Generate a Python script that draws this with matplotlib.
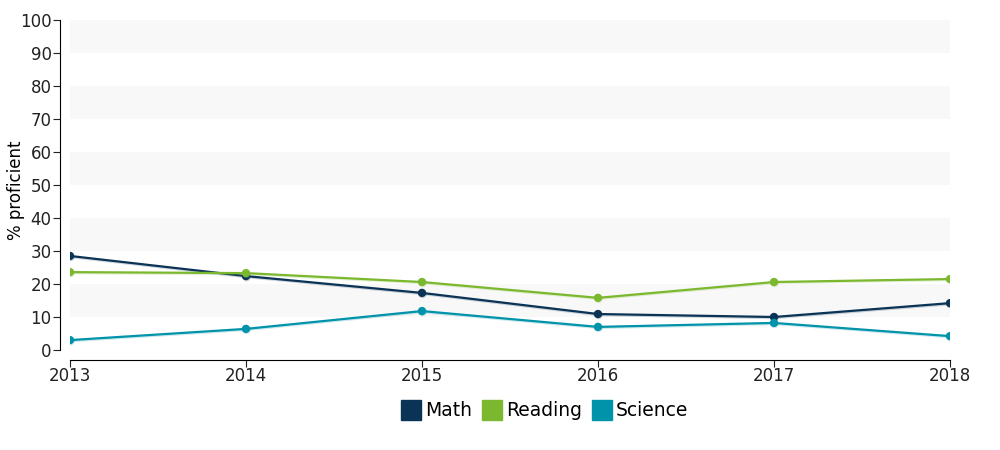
import matplotlib.pyplot as plt
from matplotlib.lines import Line2D
import matplotlib.patheffects as pe

# values
years = [2013, 2014, 2015, 2016, 2017, 2018]
math = [28.5, 22.4, 17.3, 10.9, 10.0, 14.2]
reading = [23.6, 23.3, 20.6, 15.8, 20.6, 21.5]
science = [3.0, 6.4, 11.8, 7.0, 8.2, 4.2]

series = [("Math", math, "#0b3356"), ("Reading", reading, "#7cb82f"), ("Science", science, "#0093a9")]

plt.rcParams['font.family'] = ['DejaVu Sans']

fig = plt.figure(figsize=(10, 4.5), dpi=100)
ax = fig.add_axes([0.07, 1 - 350 / 450, 0.88, 330 / 450])

# alternating light bands
for lo in range(10, 100, 20):
    ax.axhspan(lo, lo + 10, color="#f8f8f8", lw=0, zorder=0)

for name, vals, col in series:
    ax.plot(years, vals, color=col, lw=1.6, marker="o", markersize=5, zorder=3,
            path_effects=[pe.SimpleLineShadow(offset=(0.4, -0.8), shadow_color=col, alpha=0.2), pe.Normal()])

ax.set_xlim(2013, 2018)
ax.set_ylim(0, 100)
ax.set_xticks(years)
ax.set_yticks(range(0, 101, 10))
ax.tick_params(labelsize=12, colors="#222222", length=5)
ax.tick_params(axis="x", pad=0)
ax.tick_params(axis="y", pad=1)

for s in ["top", "right"]:
    ax.spines[s].set_visible(False)
ax.spines["left"].set_position(("outward", 7.2))
ax.spines["bottom"].set_position(("outward", 7.2))

# y label placed by hand, like the reference
fig.text(0.016, 1 - 190 / 450, "% proficient", rotation=90, ha="center", va="center", fontsize=12)

handles = [Line2D([], [], ls="", marker="s", markersize=15, color=c) for _, _, c in series]
fig.legend(handles, [n for n, _, _ in series], loc="center", bbox_to_anchor=(0.544, 1 - 411 / 450),
           ncol=3, frameon=False, fontsize=13.5, handletextpad=0.15, columnspacing=0.45, handlelength=1.2)

fig.savefig("out.png")
